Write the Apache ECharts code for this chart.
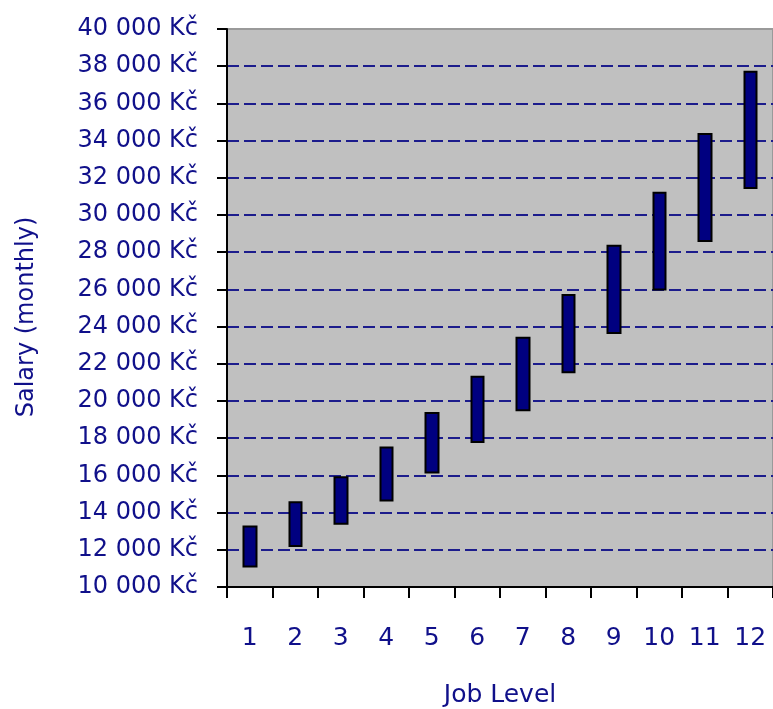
<!DOCTYPE html>
<html>
<head>
<meta charset="utf-8">
<title>Salary ranges by job level</title>
<script src="https://cdn.jsdelivr.net/npm/echarts@6/dist/echarts.min.js"></script>
<style>
  html, body { margin: 0; padding: 0; background: #ffffff; }
  #chart { width: 773px; height: 709px; }
</style>
</head>
<body>
<div id="chart"></div>
<script>
// Job levels along the horizontal axis
const jobLevels = ['1', '2', '3', '4', '5', '6', '7', '8', '9', '10', '11', '12'];
// Monthly salary band for each level (CZK): bottom and top of the range
const salaryMin = [11100, 12200, 13400, 14650, 16150, 17800, 19500, 21550, 23650, 26000, 28600, 31450];
const salaryMax = [13250, 14550, 15900, 17500, 19350, 21300, 23400, 25700, 28350, 31200, 34350, 37700];
// Value axis range and step
const axisMin = 10000;
const axisMax = 40000;
const axisStep = 2000;

const navy = '#000080';
const textColor = '#10108a';
const font = 'DejaVu Sans';

// candlestick item: [open, close, lowest, highest]
const bands = jobLevels.map((_, i) => [salaryMin[i], salaryMax[i], salaryMin[i], salaryMax[i]]);

function formatKc(v) {
  return String(v).replace(/\B(?=(\d{3})+(?!\d))/g, ' ') + ' Kč';
}

const chart = echarts.init(document.getElementById('chart'), null, { renderer: 'canvas' });
chart.setOption({
  animation: false,
  backgroundColor: '#ffffff',
  grid: {
    left: 227,
    right: 0,
    top: 29,
    bottom: 122,
    outerBoundsMode: 'none',
    show: true,
    backgroundColor: '#c0c0c0',
    borderColor: '#9a9a9a',
    borderWidth: 2
  },
  xAxis: {
    type: 'category',
    data: jobLevels,
    boundaryGap: true,
    name: 'Job Level',
    nameLocation: 'middle',
    nameGap: 96,
    nameTextStyle: { color: textColor, fontFamily: font, fontSize: 25 },
    axisLine: { lineStyle: { color: '#000000', width: 2 } },
    axisTick: { show: true, alignWithLabel: false, length: 11, lineStyle: { color: '#000000', width: 2 } },
    axisLabel: { color: textColor, fontFamily: font, fontSize: 25, margin: 39 },
    splitLine: { show: false }
  },
  yAxis: {
    type: 'value',
    min: axisMin,
    max: axisMax,
    interval: axisStep,
    name: 'Salary (monthly)',
    nameLocation: 'middle',
    nameGap: 188,
    nameTextStyle: { color: textColor, fontFamily: font, fontSize: 24, padding: [0, 18, 0, 0] },
    axisLine: { show: true, lineStyle: { color: '#000000', width: 2 } },
    axisTick: { show: true, length: 10, lineStyle: { color: '#000000', width: 2 } },
    axisLabel: { color: textColor, fontFamily: font, fontSize: 24, margin: 29, formatter: formatKc },
    splitLine: {
      show: true,
      showMinLine: false,
      showMaxLine: false,
      lineStyle: { color: '#1c1c8c', width: 2, type: [12, 5] }
    }
  },
  series: [{
    type: 'candlestick',
    data: bands,
    barWidth: 13,
    itemStyle: {
      color: navy,
      color0: navy,
      borderColor: '#000000',
      borderColor0: '#000000',
      borderWidth: 2
    }
  }]
});
</script>
</body>
</html>
